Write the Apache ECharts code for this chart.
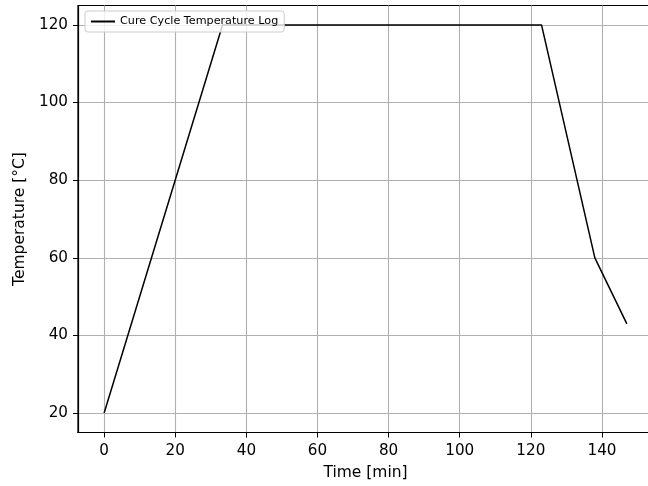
<!DOCTYPE html>
<html>
<head>
<meta charset="utf-8">
<script src="https://cdn.jsdelivr.net/npm/echarts@6/dist/echarts.min.js"></script>
<style>
  html, body { margin: 0; padding: 0; background: #fff; }
  #chart { width: 648px; height: 486px; }
</style>
</head>
<body>
<div id="chart"></div>
<script>
// Cure cycle: ramp, hold, cool down
const tiempo = [0, 33.3, 123, 138, 147];
const temperatura = [20, 120, 120, 60, 43];
const ticksX = [0, 20, 40, 60, 80, 100, 120, 140];
const ticksY = [20, 40, 60, 80, 100, 120];

const fuente = "DejaVu Sans";
const chart = echarts.init(document.getElementById("chart"));

chart.setOption({
  animation: false,
  backgroundColor: "#fff",
  textStyle: { fontFamily: fuente },
  grid: {
    left: 78, top: 5.5, width: 575, height: 427,
    outerBoundsMode: "none",
    containLabel: false,
    show: true, borderColor: "#000", borderWidth: 1.2
  },
  legend: {
    left: 85, top: 11,
    padding: [5, 6],
    itemWidth: 24, itemHeight: 2, itemGap: 8,
    icon: "rect",
    borderColor: "#cccccc", borderWidth: 1, borderRadius: 3,
    backgroundColor: "rgba(255,255,255,0.8)",
    textStyle: { fontFamily: fuente, fontSize: 11.2, color: "#000" },
    data: ["Cure Cycle Temperature Log"]
  },
  xAxis: {
    type: "value",
    min: -7.35, max: 154.35,
    name: "Time [min]",
    nameLocation: "middle",
    nameGap: 32,
    nameTextStyle: { fontFamily: fuente, fontSize: 15.5, color: "#000" },
    axisLine: { show: true, onZero: false, lineStyle: { color: "#000", width: 1.2 } },
    axisTick: { show: true, length: 5, customValues: ticksX, lineStyle: { color: "#000" } },
    axisLabel: { customValues: ticksX, fontSize: 15.2, color: "#000", margin: 11, fontFamily: fuente },
    splitLine: { show: true, lineStyle: { color: "#b0b0b0", width: 1.1 } }
  },
  yAxis: {
    type: "value",
    min: 15, max: 125,
    name: "Temperature [°C]",
    nameLocation: "middle",
    nameGap: 49,
    nameTextStyle: { fontFamily: fuente, fontSize: 15.5, color: "#000" },
    axisLine: { show: true, onZero: false, lineStyle: { color: "#000", width: 1.2 } },
    axisTick: { show: true, length: 5, customValues: ticksY, lineStyle: { color: "#000" } },
    axisLabel: { customValues: ticksY, fontSize: 15.2, color: "#000", margin: 10, fontFamily: fuente },
    splitLine: { show: true, lineStyle: { color: "#b0b0b0", width: 1.1 } }
  },
  series: [{
    name: "Cure Cycle Temperature Log",
    type: "line",
    data: tiempo.map((t, i) => [t, temperatura[i]]),
    showSymbol: false,
    symbol: "none",
    lineStyle: { color: "#000", width: 1.5 },
    itemStyle: { color: "#000" }
  }]
});
</script>
</body>
</html>
